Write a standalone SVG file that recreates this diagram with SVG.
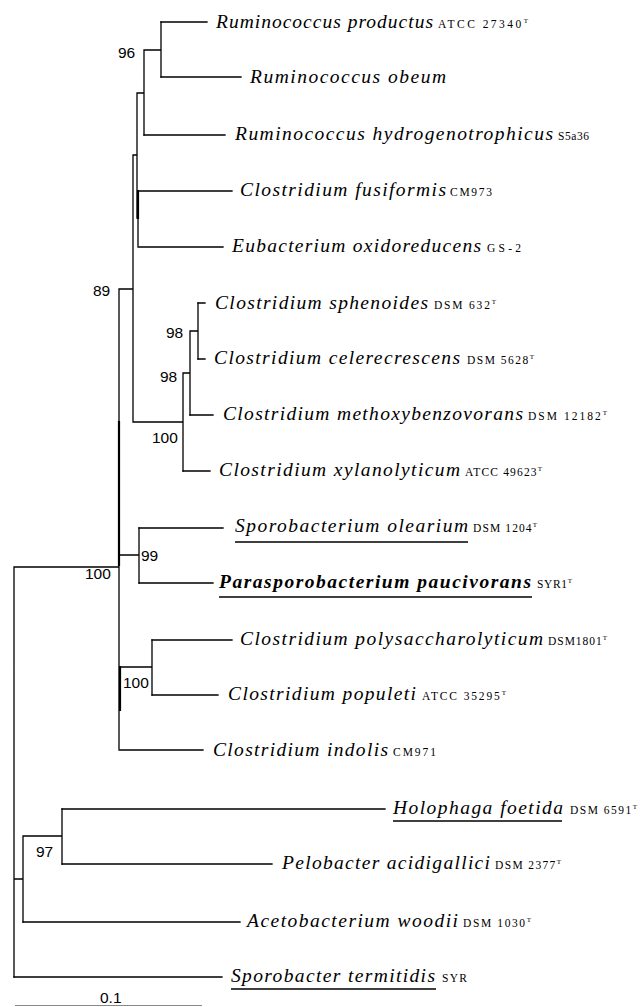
<svg xmlns="http://www.w3.org/2000/svg" width="640" height="1007" viewBox="0 0 640 1007">
<style>
.l{stroke:#000;stroke-width:1.3;fill:none;stroke-linecap:square}
.t{stroke-width:2.2}
.n{font-family:"Liberation Serif","Times New Roman",serif;font-style:italic;font-size:19.5px;fill:#000}
.nb{font-weight:bold}
.s{font-family:"Liberation Serif","Times New Roman",serif;font-size:11.5px;fill:#000}
.sup{font-size:7px}
.b{font-family:"Liberation Sans",Arial,sans-serif;font-size:15.5px;fill:#000}
.u{stroke:#000;stroke-width:1.6}
</style>
<rect width="640" height="1007" fill="#fff"/>
<g id="connectors">
<path class="l" d="M161 22H207M161 77H241M144 135H225M138 191H232M139 247H223M198 303H205M198 359H205M190 415H213M183 471H210M139 528H223M139 583H213M152 640H232M152 695H218M120 750H203M62 809H385M62 864H272M23 922H240M14 977H222"/>
<path class="l" d="M161 22V77M144 50H161M144 50V135M137 93H144M137 93V218M138 191V247M133 155H137M133 155V422M119 289H133M183 373V471M133 422H183M190 331V415M183 373H190M198 303V359M190 331H198M119 289V750M14 567H119M139 528V583M119 555H139M152 640V695M119 667H152M14 567V977M14 879H23M23 836V922M23 836H62M62 809V864"/>
<path class="l t" d="M138 191V218M119 422V565M120 667V710"/>
<path d="M15 1005.5H202" stroke="#888" stroke-width="1.2"/>
</g>
<g id="bootstrap">
<text class="b" x="118" y="57.5">96</text>
<text class="b" x="93" y="296">89</text>
<text class="b" x="166" y="337.5">98</text>
<text class="b" x="160" y="382">98</text>
<text class="b" x="152" y="443">100</text>
<text class="b" x="141" y="561">99</text>
<text class="b" x="85" y="579">100</text>
<text class="b" x="123" y="688">100</text>
<text class="b" x="36" y="857">97</text>
<text class="b" x="100" y="1003">0.1</text>
</g>
<g id="leaf1"><text class="n" x="216" y="27.5" textLength="217" lengthAdjust="spacing">Ruminococcus productus</text><text class="s" x="438" y="27.5" textLength="90" lengthAdjust="spacing">ATCC 27340<tspan class="sup" dy="-5">T</tspan></text></g>
<g id="leaf2"><text class="n" x="250" y="82.5" textLength="196" lengthAdjust="spacing">Ruminococcus obeum</text></g>
<g id="leaf3"><text class="n" x="235" y="140" textLength="318" lengthAdjust="spacing">Ruminococcus hydrogenotrophicus</text><text class="s" x="558" y="140" textLength="31" lengthAdjust="spacing">S5a36</text></g>
<g id="leaf4"><text class="n" x="240" y="196" textLength="206" lengthAdjust="spacing">Clostridium fusiformis</text><text class="s" x="450" y="196" textLength="42" lengthAdjust="spacing">CM973</text></g>
<g id="leaf5"><text class="n" x="232" y="252" textLength="249" lengthAdjust="spacing">Eubacterium oxidoreducens</text><text class="s" x="487" y="252" textLength="34" lengthAdjust="spacing">GS-2</text></g>
<g id="leaf6"><text class="n" x="215" y="308.5" textLength="213" lengthAdjust="spacing">Clostridium sphenoides</text><text class="s" x="434" y="308.5" textLength="62" lengthAdjust="spacing">DSM 632<tspan class="sup" dy="-5">T</tspan></text></g>
<g id="leaf7"><text class="n" x="214" y="364" textLength="246" lengthAdjust="spacing">Clostridium celerecrescens</text><text class="s" x="467" y="364" textLength="67" lengthAdjust="spacing">DSM 5628<tspan class="sup" dy="-5">T</tspan></text></g>
<g id="leaf8"><text class="n" x="223" y="420" textLength="300" lengthAdjust="spacing">Clostridium methoxybenzovorans</text><text class="s" x="528" y="420" textLength="79" lengthAdjust="spacing">DSM 12182<tspan class="sup" dy="-5">T</tspan></text></g>
<g id="leaf9"><text class="n" x="219" y="476" textLength="241" lengthAdjust="spacing">Clostridium xylanolyticum</text><text class="s" x="465" y="476" textLength="77" lengthAdjust="spacing">ATCC 49623<tspan class="sup" dy="-5">T</tspan></text></g>
<g id="leaf10"><text class="n" x="235" y="532" textLength="233" lengthAdjust="spacing">Sporobacterium olearium</text><text class="s" x="473" y="532" textLength="64" lengthAdjust="spacing">DSM 1204<tspan class="sup" dy="-5">T</tspan></text><path class="u" d="M235 542H468"/></g>
<g id="leaf11"><text class="n nb" x="219" y="588" textLength="312" lengthAdjust="spacing">Parasporobacterium paucivorans</text><text class="s" x="537" y="588" textLength="35" lengthAdjust="spacing">SYR1<tspan class="sup" dy="-5">T</tspan></text><path class="u" d="M219 597H532"/></g>
<g id="leaf12"><text class="n" x="240" y="645" textLength="303" lengthAdjust="spacing">Clostridium polysaccharolyticum</text><text class="s" x="548" y="645" textLength="59" lengthAdjust="spacing">DSM1801<tspan class="sup" dy="-5">T</tspan></text></g>
<g id="leaf13"><text class="n" x="228" y="700" textLength="188" lengthAdjust="spacing">Clostridium populeti</text><text class="s" x="422" y="700" textLength="84" lengthAdjust="spacing">ATCC 35295<tspan class="sup" dy="-5">T</tspan></text></g>
<g id="leaf14"><text class="n" x="213" y="756" textLength="175" lengthAdjust="spacing">Clostridium indolis</text><text class="s" x="393" y="756" textLength="43" lengthAdjust="spacing">CM971</text></g>
<g id="leaf15"><text class="n" x="393" y="814" textLength="170" lengthAdjust="spacing">Holophaga foetida</text><text class="s" x="570" y="814" textLength="67" lengthAdjust="spacing">DSM 6591<tspan class="sup" dy="-5">T</tspan></text><path class="u" d="M393 821H562"/></g>
<g id="leaf16"><text class="n" x="282" y="869" textLength="208" lengthAdjust="spacing">Pelobacter acidigallici</text><text class="s" x="495" y="869" textLength="66" lengthAdjust="spacing">DSM 2377<tspan class="sup" dy="-5">T</tspan></text></g>
<g id="leaf17"><text class="n" x="247" y="927" textLength="211" lengthAdjust="spacing">Acetobacterium woodii</text><text class="s" x="463" y="927" textLength="68" lengthAdjust="spacing">DSM 1030<tspan class="sup" dy="-5">T</tspan></text></g>
<g id="leaf18"><text class="n" x="231" y="982" textLength="204" lengthAdjust="spacing">Sporobacter termitidis</text><text class="s" x="442" y="982" textLength="25" lengthAdjust="spacing">SYR</text><path class="u" d="M231 989H436"/></g>
</svg>
